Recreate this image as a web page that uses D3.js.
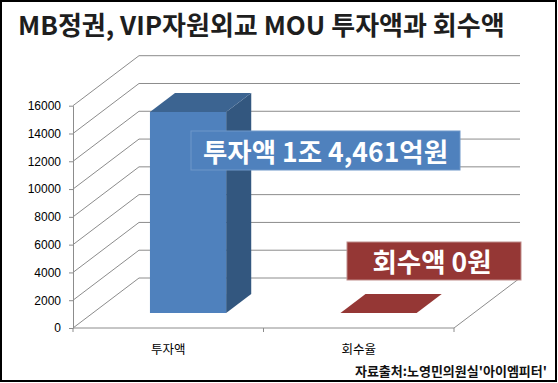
<!DOCTYPE html>
<html><head><meta charset="utf-8">
<script src="https://cdn.jsdelivr.net/npm/d3@7"></script>
<style>body{margin:0;background:#fff;overflow:hidden}</style>
</head><body>
<svg id="c" width="558" height="383"></svg>
<script>
const categories = ["투자액", "회수율"];
const values = [14461, 0];
const yTicks = [0, 2000, 4000, 6000, 8000, 10000, 12000, 14000, 16000];
const titleText = "MB정권, VIP자원외교 MOU 투자액과 회수액";
const labelTexts = ["투자액 1조 4,461억원", "회수액 0원"];
const sourceText = "자료출처:노영민의원실'아이엠피터'";
const barColors = [
  {front: "#4F81BD", top: "#3C6491", side: "#33577F", box: "#4F81BD", boxStroke: "#6F97C9"},
  {front: "#953735", top: "#953735", side: "#7A2C2A", box: "#953735", boxStroke: "#C08D8B"}
];

const svg = d3.select("#c");
const KO = "'Noto Sans CJK KR','Noto Sans',sans-serif";
const DX = 66, DY = -50;
const x = d3.scaleBand().domain(categories).range([73, 454]).padding(0);
const y = d3.scaleLinear().domain([0, 16000]).range([328, 105.7]);
const P = (px, v, d) => [px + DX * d, y(v) + DY * d];
const gridCol = "#8c8c8c";

// frame
svg.append("rect").attr("x", 1).attr("y", 1).attr("width", 555).attr("height", 380)
  .attr("fill", "#fff").attr("stroke", "#000").attr("stroke-width", 2);

// title
svg.append("text").attr("x", 18).attr("y", 35).text(titleText)
  .attr("font-family", KO).attr("font-weight", 700).attr("font-size", 26).attr("fill", "#1e1e1e");

// gridlines (side wall + back wall)
const line = d3.line();
const grid = svg.append("g").attr("fill", "none").attr("stroke", gridCol).attr("stroke-width", 1);
yTicks.forEach(t => {
  const a = P(x.range()[0], t, 0), b = P(x.range()[0], t, 1), c = P(x.range()[1], t, 1);
  grid.append("path").attr("d", line([a, b, c]));
});
// floor edges
grid.append("path").attr("d", line([P(x.range()[0], 0, 0), P(x.range()[1], 0, 0), P(x.range()[1], 0, 1)]));

// y axis
const ax = svg.append("g").attr("transform", "translate(73,0)")
  .call(d3.axisLeft(y).tickValues(yTicks).tickSize(4).tickSizeOuter(0).tickPadding(8).tickFormat(d3.format("d")));
ax.select(".domain").attr("stroke", gridCol);
ax.selectAll(".tick line").attr("stroke", gridCol);
ax.selectAll("text").attr("font-family", "'Liberation Sans',Arial,sans-serif").attr("font-size", 12).attr("fill", "#000");

// category ticks
const edges = categories.map(c => x(c)).concat([x.range()[1]]);
svg.append("g").selectAll("line").data(edges).join("line")
  .attr("x1", d => d).attr("x2", d => d).attr("y1", y(0)).attr("y2", y(0) + 4)
  .attr("stroke", gridCol);
svg.append("g").selectAll("text").data(categories).join("text")
  .attr("x", d => x(d) + x.bandwidth() / 2).attr("y", 354).attr("text-anchor", "middle")
  .attr("font-family", KO).attr("font-size", 12.5).attr("fill", "#000").text(d => d);

// bars
const bw = x.bandwidth() * 0.4, d0 = 0.3, d1 = 0.68;
categories.forEach((c, i) => {
  const v = values[i], col = barColors[i];
  const xl = x(c) + x.bandwidth() / 2 - bw / 2, xr = xl + bw;
  const g = svg.append("g");
  if (v > 0) {
    g.append("path").attr("fill", col.side)
      .attr("d", line([P(xr, 0, d0), P(xr, v, d0), P(xr, v, d1), P(xr, 0, d1)]) + "Z");
    g.append("path").attr("fill", col.front)
      .attr("d", line([P(xl, 0, d0), P(xl, v, d0), P(xr, v, d0), P(xr, 0, d0)]) + "Z");
  }
  g.append("path").attr("fill", col.top)
    .attr("d", line([P(xl, v, d0), P(xr, v, d0), P(xr, v, d1), P(xl, v, d1)]) + "Z");
});

// annotation boxes
const boxes = [
  {x: 191, y: 131, w: 269, h: 39, cx: 325.5, base: 161.5},
  {x: 347, y: 242, w: 174, h: 38, cx: 432, base: 271.5}
];
boxes.forEach((b, i) => {
  svg.append("rect").attr("x", b.x).attr("y", b.y).attr("width", b.w).attr("height", b.h)
    .attr("fill", barColors[i].box).attr("stroke", barColors[i].boxStroke).attr("stroke-width", 1);
  svg.append("text").attr("x", b.cx).attr("y", b.base).attr("text-anchor", "middle")
    .attr("font-family", KO).attr("font-weight", 700).attr("font-size", 26.5).attr("fill", "#fff")
    .text(labelTexts[i]);
});

// source
svg.append("text").attr("x", 547).attr("y", 376).attr("text-anchor", "end")
  .attr("font-family", KO).attr("font-weight", 700).attr("font-size", 13).attr("fill", "#111")
  .text(sourceText);
</script>
</body></html>
